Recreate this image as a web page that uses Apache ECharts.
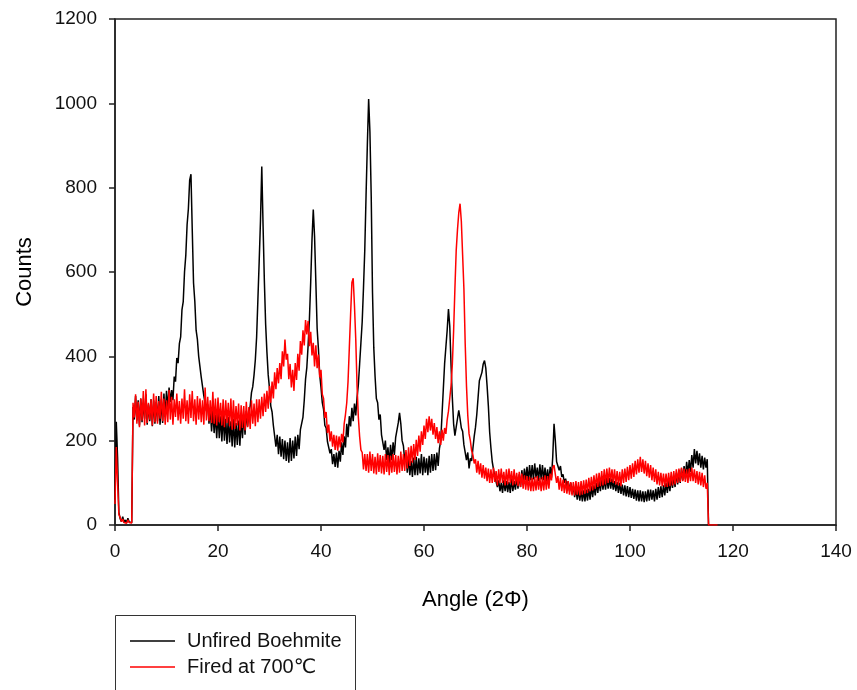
<!DOCTYPE html>
<html>
<head>
<meta charset="utf-8">
<title>XRD Boehmite</title>
<script src="https://cdn.jsdelivr.net/npm/echarts@6/dist/echarts.min.js"></script>
<style>
  html, body { margin: 0; padding: 0; background: #fff; }
  #chart { width: 857px; height: 690px; }
</style>
</head>
<body>
<div id="chart"></div>
<script>
// scan grid: angle of first sample and step (degrees)
const scanStart = 0
const scanStep = 0.25

const xTicks = { min: 0, max: 140, interval: 20 }
const yTicks = { min: 0, max: 1200, interval: 200 }

const seriesNames = ['Unfired Boehmite', 'Fired at 700℃']

// counts, 4 samples per degree (one row per degree)
const unfiredCounts = [
  60, 245, 160, 30,
  15, 8, 20, 6,
  12, 5, 16, 7,
  10, 6, 280, 250,
  306, 248, 296, 236,
  300, 244, 290, 252,
  310, 238, 286, 246,
  298, 234, 296, 240,
  292, 246, 306, 238,
  298, 242, 312, 256,
  318, 276, 326, 292,
  320, 296, 352, 340,
  396, 384, 430, 446,
  510, 530, 600, 640,
  712, 750, 818, 832,
  700, 574, 530, 462,
  440, 400, 398, 350,
  346, 306, 310, 270,
  286, 240, 276, 222,
  272, 218, 262, 206,
  266, 206, 258, 198,
  262, 200, 252, 192,
  256, 196, 246, 186,
  252, 184, 242, 190,
  248, 188, 252, 206,
  262, 214, 270, 234,
  270, 282, 314, 328,
  356, 392, 446, 536,
  626, 722, 850, 710,
  580, 476, 410, 356,
  324, 282, 268, 236,
  236, 186, 214, 168,
  210, 162, 204, 156,
  200, 152, 196, 148,
  206, 152, 200, 158,
  210, 164, 214, 180,
  226, 222, 256, 296,
  346, 374, 426, 488,
  576, 676, 748, 684,
  576, 466, 418, 356,
  326, 290, 274, 236,
  230, 198, 200, 170,
  180, 144, 168, 138,
  172, 136, 176, 150,
  196, 166, 210, 184,
  240, 208, 258, 234,
  278, 246, 288, 260,
  302, 332, 382, 432,
  482, 562, 652, 782,
  902, 1010, 932, 780,
  552, 420, 352, 300,
  290, 250, 262, 214,
  218, 178, 200, 154,
  184, 144, 190, 154,
  196, 166, 208, 204,
  242, 266, 240, 200,
  188, 154, 172, 124,
  160, 118, 152, 114,
  160, 118, 162, 118,
  158, 122, 168, 118,
  162, 124, 158, 118,
  164, 124, 168, 128,
  168, 130, 172, 140,
  182, 200, 262, 322,
  382, 422, 462, 512,
  472, 380, 302, 240,
  212, 232, 252, 272,
  252, 230, 222, 190,
  188, 154, 172, 134,
  158, 152, 182, 210,
  232, 262, 302, 342,
  342, 362, 382, 390,
  372, 330, 282, 220,
  182, 150, 132, 114,
  110, 90, 106, 80,
  100, 76, 106, 80,
  104, 78, 102, 76,
  110, 80, 104, 84,
  114, 86, 120, 90,
  130, 100, 134, 106,
  138, 104, 142, 106,
  142, 108, 146, 112,
  136, 104, 144, 108,
  142, 106, 136, 104,
  132, 102, 138, 112,
  162, 240, 200, 150,
  152, 130, 140, 114,
  120, 100, 110, 92,
  104, 80, 100, 74,
  92, 66, 86, 60,
  84, 58, 82, 56,
  82, 56, 84, 58,
  86, 60, 92, 66,
  94, 70, 100, 76,
  104, 80, 110, 84,
  110, 84, 114, 86,
  112, 86, 110, 84,
  104, 80, 102, 76,
  100, 74, 96, 70,
  94, 68, 92, 66,
  90, 64, 86, 62,
  84, 58, 82, 56,
  82, 56, 80, 54,
  80, 56, 84, 58,
  84, 60, 82, 56,
  86, 60, 90, 64,
  92, 66, 94, 70,
  100, 76, 104, 80,
  112, 88, 116, 90,
  124, 96, 130, 100,
  134, 106, 140, 110,
  150, 120, 154, 126,
  166, 136, 180, 146,
  176, 142, 170, 136,
  164, 132, 160, 136,
  156, 0
]

const firedCounts = [
  50, 185, 100, 25,
  18, 8, 14, 6,
  10, 4, 12, 6,
  8, 5, 290, 255,
  310, 240, 292, 232,
  300, 248, 318, 236,
  322, 242, 290, 250,
  298, 236, 312, 244,
  306, 240, 294, 252,
  316, 246, 300, 238,
  296, 244, 320, 250,
  304, 238, 298, 256,
  312, 248, 294, 240,
  300, 252, 322, 246,
  296, 240, 310, 254,
  318, 246, 298, 238,
  306, 250, 300, 244,
  296, 238, 326, 248,
  304, 246, 296, 242,
  316, 240, 300, 236,
  302, 244, 290, 236,
  298, 232, 296, 242,
  290, 234, 300, 226,
  296, 228, 282, 236,
  288, 224, 284, 230,
  282, 224, 292, 232,
  280, 228, 296, 240,
  288, 234, 298, 244,
  298, 252, 304, 258,
  312, 268, 318, 276,
  330, 290, 340, 300,
  362, 322, 372, 336,
  384, 346, 412, 376,
  440, 392, 406, 346,
  382, 326, 368, 318,
  384, 344, 406, 366,
  436, 404, 462, 426,
  486, 452, 484, 424,
  458, 402, 432, 376,
  426, 372, 404, 350,
  368, 310, 300, 254,
  268, 218, 238, 198,
  222, 186, 214, 178,
  212, 176, 210, 184,
  216, 196, 240, 262,
  290, 340, 420, 500,
  575, 585, 520, 440,
  330, 256, 210, 178,
  172, 132, 168, 128,
  168, 124, 174, 128,
  168, 122, 162, 120,
  170, 126, 166, 122,
  164, 120, 168, 126,
  166, 118, 164, 124,
  168, 126, 166, 120,
  164, 124, 174, 128,
  168, 128, 178, 134,
  184, 140, 188, 148,
  192, 154, 202, 164,
  212, 174, 222, 190,
  236, 204, 252, 220,
  258, 224, 252, 214,
  242, 204, 232, 194,
  222, 190, 226, 200,
  230, 216, 250, 270,
  300, 330, 380, 460,
  560, 650, 700, 740,
  762, 720, 640, 560,
  430, 330, 260, 216,
  200, 176, 166, 146,
  156, 124, 152, 120,
  146, 112, 142, 110,
  136, 104, 134, 100,
  132, 100, 136, 102,
  128, 94, 132, 100,
  134, 100, 126, 94,
  132, 96, 134, 100,
  128, 94, 132, 96,
  124, 92, 126, 90,
  122, 86, 118, 84,
  116, 82, 114, 80,
  112, 80, 114, 82,
  116, 84, 112, 80,
  114, 82, 118, 84,
  116, 86, 122, 106,
  136, 142, 120, 100,
  116, 84, 112, 80,
  108, 76, 106, 74,
  104, 72, 102, 70,
  102, 70, 104, 72,
  102, 70, 104, 72,
  106, 74, 108, 76,
  112, 80, 114, 82,
  118, 86, 122, 90,
  124, 92, 128, 94,
  132, 96, 134, 100,
  136, 102, 132, 100,
  132, 96, 128, 94,
  126, 92, 132, 100,
  134, 102, 138, 106,
  142, 110, 146, 114,
  152, 120, 156, 124,
  162, 126, 156, 122,
  152, 116, 146, 112,
  142, 106, 136, 102,
  132, 96, 126, 94,
  124, 92, 122, 90,
  122, 90, 124, 92,
  126, 94, 128, 96,
  132, 100, 134, 102,
  136, 104, 134, 102,
  132, 100, 134, 104,
  136, 104, 132, 100,
  128, 96, 126, 94,
  124, 90, 118, 86,
  100, 0, 0, 0,
  0, 0, 0, 0,
  0
]

const FONT = '"Liberation Sans", Arial, "DejaVu Sans", "Noto Sans CJK SC", sans-serif'

function toPairs(counts) {
  return counts.map((c, i) => [scanStart + i * scanStep, c])
}

const chart = echarts.init(document.getElementById('chart'), null, { renderer: 'canvas' })

const axisCommon = {
  type: 'value',
  nameLocation: 'middle',
  nameTextStyle: { color: '#000', fontSize: 22, fontFamily: FONT },
  axisLine: { show: true, onZero: false, lineStyle: { color: '#222', width: 1.5 } },
  axisTick: { show: true, inside: false, length: 6, lineStyle: { color: '#222', width: 1.5 } },
  axisLabel: { color: '#111', fontSize: 19, fontFamily: FONT, formatter: v => String(v) },
  splitLine: { show: false }
}

chart.setOption({
  animation: false,
  backgroundColor: '#fff',
  grid: {
    left: 115, right: 21, top: 19, bottom: 165,
    show: true, borderColor: '#222', borderWidth: 1.5, backgroundColor: 'transparent'
  },
  xAxis: Object.assign({}, axisCommon, {
    name: 'Angle (2Φ)',
    nameGap: 64,
    min: xTicks.min, max: xTicks.max, interval: xTicks.interval,
    axisLabel: Object.assign({}, axisCommon.axisLabel, { margin: 17 })
  }),
  yAxis: Object.assign({}, axisCommon, {
    name: 'Counts',
    nameGap: 79,
    nameRotate: 90,
    min: yTicks.min, max: yTicks.max, interval: yTicks.interval,
    axisLabel: Object.assign({}, axisCommon.axisLabel, { margin: 18 })
  }),
  legend: {
    show: true,
    orient: 'vertical',
    left: 115,
    top: 615,
    padding: [16, 16, 4, 15],
    itemWidth: 45,
    itemHeight: 1.5,
    itemGap: 6,
    textStyle: { color: '#111', fontSize: 20, lineHeight: 16, fontFamily: FONT, padding: [0, 0, 0, 7] },
    data: seriesNames.map(name => ({ name: name, icon: 'rect' }))
  },
  // legend frame, runs past the bottom edge like the original
  graphic: [{
    type: 'rect',
    left: 113, top: 613,
    shape: { width: 240, height: 100 },
    style: { fill: 'none', stroke: '#333', lineWidth: 1 },
    z: 10
  }],
  series: [
    {
      name: seriesNames[0],
      type: 'line',
      data: toPairs(unfiredCounts),
      symbol: 'none',
      lineStyle: { color: '#000', width: 1.5 },
      itemStyle: { color: '#000' },
      z: 2
    },
    {
      name: seriesNames[1],
      type: 'line',
      data: toPairs(firedCounts),
      symbol: 'none',
      lineStyle: { color: '#ff0000', width: 1.5 },
      itemStyle: { color: '#ff0000' },
      z: 3
    }
  ]
})
</script>
</body>
</html>
